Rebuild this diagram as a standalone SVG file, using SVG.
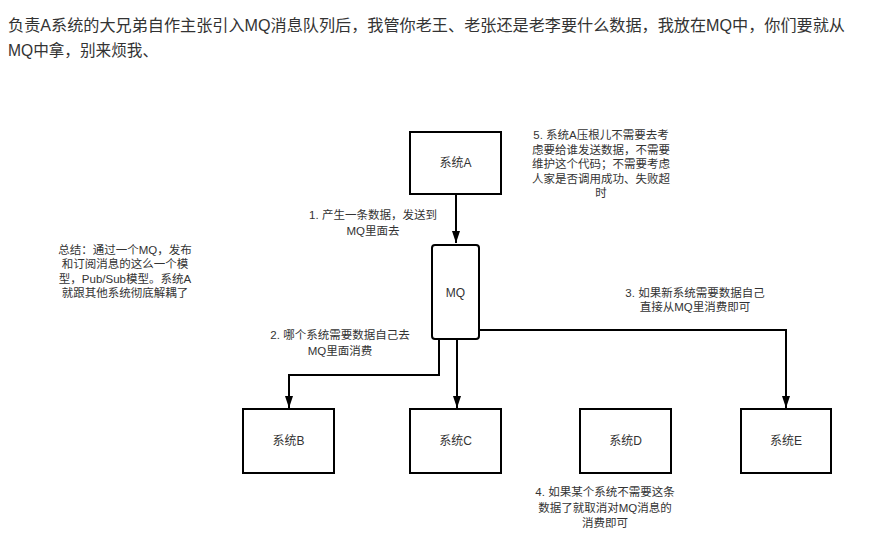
<svg xmlns="http://www.w3.org/2000/svg" width="872" height="547" viewBox="0 0 872 547">
<style>
.box{fill:#fff;stroke:#000;stroke-width:2}
.lbl{font-family:"Liberation Sans","Noto Sans CJK SC",sans-serif;font-size:12px;fill:#333;text-anchor:middle}
.nt{font-family:"Liberation Sans","Noto Sans CJK SC",sans-serif;font-size:11.5px;fill:#333;text-anchor:middle}
.title{font-family:"Liberation Sans","Noto Sans CJK SC",sans-serif;font-size:16px;fill:#333}
.ln{fill:none;stroke:#000;stroke-width:2}
</style>
<defs>
<marker id="ah" viewBox="0 0 12 8" refX="12" refY="4" markerWidth="6" markerHeight="4" orient="auto" markerUnits="strokeWidth">
<path d="M0,0 L12,4 L0,8 z" fill="#000"/>
</marker>
</defs>
<rect width="872" height="547" fill="#fff"/>
<text class="title" x="8" y="31" textLength="837" lengthAdjust="spacingAndGlyphs">负责A系统的大兄弟自作主张引入MQ消息队列后，我管你老王、老张还是老李要什么数据，我放在MQ中，你们要就从</text>
<text class="title" x="8" y="56" textLength="150" lengthAdjust="spacingAndGlyphs">MQ中拿，别来烦我、</text>
<g id="connectors">
<path class="ln" d="M456,194 L456,243" marker-end="url(#ah)"/>
<path class="ln" d="M439,339 L439,375 L289,375 L289,408" marker-end="url(#ah)"/>
<path class="ln" d="M457,339 L457,408" marker-end="url(#ah)"/>
<path class="ln" d="M479,330 L786,330 L786,408" marker-end="url(#ah)"/>
</g>
<g id="nodeA"><rect class="box" x="410" y="132" width="91" height="62"/><text class="lbl" x="455.5" y="167">系统A</text></g>
<g id="nodeMQ"><rect class="box" x="432" y="245" width="47" height="94" rx="3"/><text class="lbl" x="455.5" y="297">MQ</text></g>
<g id="nodeB"><rect class="box" x="243" y="409" width="91" height="64"/><text class="lbl" x="288.5" y="445">系统B</text></g>
<g id="nodeC"><rect class="box" x="410" y="409" width="91" height="64"/><text class="lbl" x="455.5" y="445">系统C</text></g>
<g id="nodeD"><rect class="box" x="580" y="409" width="91" height="64"/><text class="lbl" x="625.5" y="445">系统D</text></g>
<g id="nodeE"><rect class="box" x="741" y="409" width="90" height="64"/><text class="lbl" x="786" y="445">系统E</text></g>
<g id="notes">
<text class="nt" x="601" y="139">5. 系统A压根儿不需要去考</text>
<text class="nt" x="601" y="154">虑要给谁发送数据，不需要</text>
<text class="nt" x="601" y="168">维护这个代码；不需要考虑</text>
<text class="nt" x="601" y="183">人家是否调用成功、失败超</text>
<text class="nt" x="601" y="197">时</text>
<text class="nt" x="373" y="219">1. 产生一条数据，发送到</text>
<text class="nt" x="373" y="235">MQ里面去</text>
<text class="nt" x="125" y="254">总结：通过一个MQ，发布</text>
<text class="nt" x="125" y="268">和订阅消息的这么一个模</text>
<text class="nt" x="125" y="283">型，Pub/Sub模型。系统A</text>
<text class="nt" x="125" y="297">就跟其他系统彻底解耦了</text>
<text class="nt" x="340" y="339">2. 哪个系统需要数据自己去</text>
<text class="nt" x="340" y="355">MQ里面消费</text>
<text class="nt" x="695" y="297">3. 如果新系统需要数据自己</text>
<text class="nt" x="695" y="311">直接从MQ里消费即可</text>
<text class="nt" x="605" y="496">4. 如果某个系统不需要这条</text>
<text class="nt" x="605" y="512">数据了就取消对MQ消息的</text>
<text class="nt" x="605" y="527">消费即可</text>
</g>
</svg>
